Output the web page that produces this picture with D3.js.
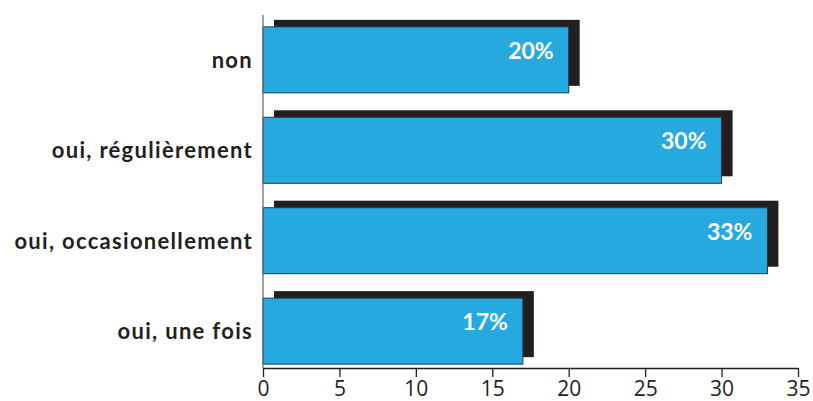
<!DOCTYPE html>
<html>
<head>
<meta charset="utf-8">
<script src="https://cdn.jsdelivr.net/npm/d3@7"></script>
<style>
  html, body { margin: 0; padding: 0; background: #fff; }
  svg { display: block; }
</style>
</head>
<body>
<svg id="chart"></svg>
<script>
const categories  = ['non', 'oui, régulièrement', 'oui, occasionellement', 'oui, une fois'];
const values      = [20, 30, 33, 17];
const valueLabels = ['20%', '30%', '33%', '17%'];
const xTicks      = [0, 5, 10, 15, 20, 25, 30, 35];

const W = 813, H = 401;
const svg = d3.select('#chart').attr('width', W).attr('height', H);

const x = d3.scaleLinear().domain([0, 35]).range([263, 798]);
const y = d3.scaleBand().domain(categories).range([16, 375]).paddingInner(0.27).paddingOuter(0.12);

const shadowDx = 11, shadowDy = -7;

// shadows
svg.append('g').selectAll('rect')
    .data(values)
    .join('rect')
    .attr('x', x(0) + shadowDx)
    .attr('y', (_, i) => y(categories[i]) + shadowDy)
    .attr('width', d => x(d) - x(0))
    .attr('height', y.bandwidth())
    .attr('fill', '#231f20');

// bars
svg.append('g').selectAll('rect')
    .data(values)
    .join('rect')
    .attr('x', x(0))
    .attr('y', (_, i) => y(categories[i]))
    .attr('width', d => x(d) - x(0))
    .attr('height', y.bandwidth())
    .attr('fill', '#25a9e0')
    .attr('stroke', '#1d3b4c')
    .attr('stroke-width', 1);

// value labels
svg.append('g').selectAll('text')
    .data(values)
    .join('text')
    .attr('x', d => x(d) - 15)
    .attr('y', (_, i) => y(categories[i]) + y.bandwidth() / 2 - 1)
    .attr('text-anchor', 'end')
    .attr('font-family', 'Lato, "Open Sans", sans-serif')
    .attr('font-weight', 700)
    .attr('font-size', 23)
    .attr('fill', '#fff')
    .text((_, i) => valueLabels[i]);

// category labels
svg.append('g').selectAll('text')
    .data(categories)
    .join('text')
    .attr('x', 253)
    .attr('y', d => y(d) + y.bandwidth() / 2 + 8)
    .attr('text-anchor', 'end')
    .attr('font-family', 'Lato, "Open Sans", sans-serif')
    .attr('font-weight', 700)
    .attr('font-size', 22)
    .attr('letter-spacing', 1.3)
    .attr('fill', '#231f20')
    .text(d => d);

// y axis line
svg.append('line')
    .attr('x1', x(0)).attr('x2', x(0))
    .attr('y1', 15).attr('y2', 368)
    .attr('stroke', '#6d6e71').attr('stroke-width', 1.3);

// x axis
const xAxis = svg.append('g')
    .attr('transform', 'translate(0,368)')
    .call(d3.axisBottom(x).tickValues(xTicks).tickSize(9).tickPadding(4).tickSizeOuter(0));
xAxis.select('.domain').attr('stroke', '#231f20').attr('stroke-width', 1.3);
xAxis.selectAll('.tick line').attr('stroke', '#231f20').attr('stroke-width', 1.3);
xAxis.selectAll('.tick text')
    .attr('font-family', '"Open Sans", "Noto Sans", sans-serif')
    .attr('font-size', 21)
    .attr('fill', '#231f20');
</script>
</body>
</html>
